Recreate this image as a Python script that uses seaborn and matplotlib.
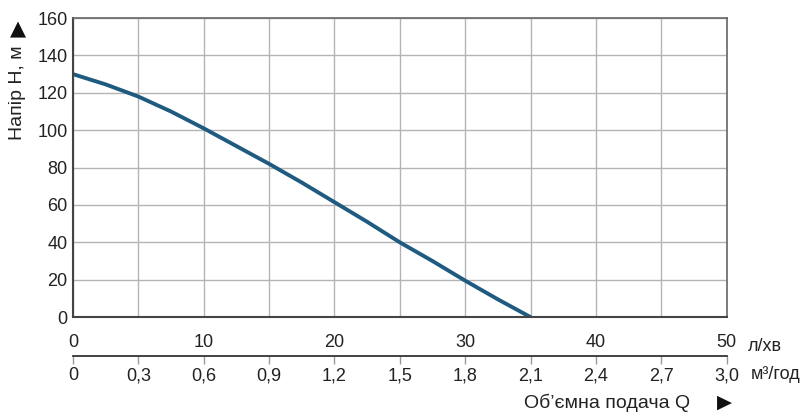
import pandas as pd
import matplotlib
matplotlib.use("Agg")
import matplotlib.pyplot as plt
import seaborn as sns

# pump curve (flow in l/min, head in m)
flow_lpm = [0, 2.5, 5, 7.5, 10, 12.5, 15, 17.5, 20, 22.5, 25, 27.5, 30, 32.5, 35]
head_m = [130, 124.5, 118, 110, 101, 91.5, 82, 72, 61.5, 51, 40, 30, 19.5, 9.5, 0]
y_ticks = [0, 20, 40, 60, 80, 100, 120, 140, 160]
lpm_ticks = [0, 10, 20, 30, 40, 50]
m3h_ticks = [0, 0.3, 0.6, 0.9, 1.2, 1.5, 1.8, 2.1, 2.4, 2.7, 3.0]
m3h_labels = ["0", "0,3", "0,6", "0,9", "1,2", "1,5", "1,8", "2,1", "2,4", "2,7", "3,0"]

df = pd.DataFrame({"Q": flow_lpm, "H": head_m})

sns.set_theme(style="white")
plt.rcParams["font.family"] = ["Liberation Sans", "DejaVu Sans"]

fs = 13

fig = plt.figure(figsize=(8.1, 4.2), dpi=100)
ax = fig.add_axes([0.0901, 0.245, 0.807, 0.712])

sns.lineplot(data=df, x="Q", y="H", ax=ax, color="#1f5a80", linewidth=2.8,
             solid_capstyle="round")

ax.set_xlim(0, 50)
ax.set_ylim(0, 160)
ax.set_xticks([i * 5 for i in range(11)])
ax.set_xticklabels([])
ax.set_yticks(y_ticks)
ax.set_yticklabels([str(v) for v in y_ticks], fontsize=fs, color="#222")
ax.tick_params(axis="both", length=0, pad=4)
ax.grid(True, color="#b4b4b4", linewidth=1)
ax.set_xlabel("")
ax.set_ylabel("")
for side in ["top", "right"]:
    ax.spines[side].set_color("#666")
    ax.spines[side].set_linewidth(1.2)
for side in ["left", "bottom"]:
    ax.spines[side].set_color("#444")
    ax.spines[side].set_linewidth(1.5)

# secondary flow scales below the chart
ax2 = fig.add_axes([0.0901, 0.152, 0.807, 0.0001])
ax2.set_xlim(0, 3.0)
ax2.set_yticks([])
for side in ["top", "left", "right"]:
    ax2.spines[side].set_visible(False)
ax2.spines["bottom"].set_color("#333")
ax2.spines["bottom"].set_linewidth(1.3)
ax2.set_xticks(m3h_ticks)
ax2.set_xticklabels(m3h_labels, fontsize=fs, color="#222")
ax2.tick_params(axis="x", direction="out", length=6, width=1, color="#999", pad=2,
                bottom=True)

ax3 = ax2.twiny()
ax3.set_xlim(0, 50)
ax3.set_yticks([])
for side in ["top", "bottom", "left", "right"]:
    ax3.spines[side].set_visible(False)
ax3.set_xticks(lpm_ticks)
ax3.set_xticklabels([str(v) for v in lpm_ticks], fontsize=fs, color="#222")
ax3.tick_params(axis="x", length=0, pad=4, top=True, labeltop=True)

fig.text(0.923, 0.176, "л/хв", fontsize=fs, color="#222", va="center", ha="left")
fig.text(0.927, 0.109, "м³/год", fontsize=fs, color="#222", va="center", ha="left")
fig.text(0.852, 0.042, "Об’ємна подача Q", fontsize=14, color="#222",
         va="center", ha="right")
fig.text(0.894, 0.042, "▶", fontsize=14, color="#111", va="center", ha="center",
         family="DejaVu Sans")

fig.text(0.021, 0.78, "Напір H, м", fontsize=14, color="#222", rotation=90,
         va="center", ha="center")
fig.text(0.022, 0.931, "▲", fontsize=15, color="#111", va="center", ha="center",
         family="DejaVu Sans")

fig.savefig("out.png", dpi=100)
